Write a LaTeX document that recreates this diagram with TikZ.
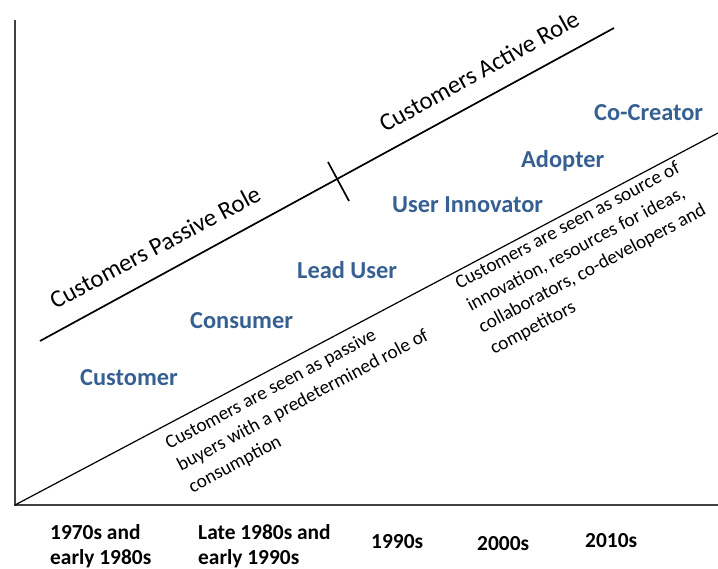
\documentclass[tikz,border=0pt]{standalone}
\usepackage{fontspec}
\setmainfont{Carlito}
\definecolor{roleblue}{HTML}{376092}
\definecolor{axisgray}{HTML}{404040}
\begin{document}
\begin{tikzpicture}[x=1pt,y=-1pt,
  axisline/.style={draw=axisgray,line width=1.8pt},
  divider/.style={draw=black,line width=1.2pt},
  roleline/.style={draw=black,line width=1.7pt},
  stage/.style={anchor=base west,inner sep=0pt,text=roleblue,font=\fontsize{24.4}{29}\selectfont\bfseries},
  era/.style={inner sep=0pt,font=\fontsize{21.4}{25}\selectfont\bfseries,align=left},
  rolelabel/.style={inner sep=0pt,font=\fontsize{24.8}{29}\selectfont},
  note/.style={inner sep=0pt,anchor=north west,align=left,rotate=28,font=\fontsize{19.2}{24.6}\selectfont}]
\useasboundingbox (0,0) rectangle (718,569);

% axes
\coordinate (origin) at (15,505);
\coordinate (ytop) at (15,20);
\coordinate (xend) at (718,505);
\draw[axisline] (ytop) -- (origin) -- (xend);

% diagonal separating the two descriptions
\coordinate (divend) at (718,133);
\draw[divider] (origin) -- (divend);

% passive / active role line with its split mark
\coordinate (rolestart) at (40,341);
\coordinate (roleend) at (614,28);
\draw[roleline] (rolestart) -- (roleend);
\coordinate (tickA) at (328,162);
\coordinate (tickB) at (349,201);
\draw[roleline] (tickA) -- (tickB);

\node[rolelabel,rotate=28] (passive) at (155,247) {Customers Passive Role};
\node[rolelabel,rotate=29] (active) at (479,71) {Customers Active Role};

% stages of the customer
\node[stage] (customer) at (80,386) {Customer};
\node[stage] (consumer) at (190,329) {Consumer};
\node[stage] (leaduser) at (297,279) {Lead User};
\node[stage] (innovator) at (392,213) {User Innovator};
\node[stage] (adopter) at (521,168) {Adopter};
\node[stage] (cocreator) at (594,121) {Co-Creator};

% descriptions
\node[note] (passivenote) at (163,438) {Customers are seen as passive\\buyers with a predetermined role of\\consumption};
\node[note] (activenote) at (453,278) {Customers are seen as source of\\innovation, resources for ideas,\\collaborators, co-developers and\\competitors};

% time periods
\node[era,anchor=north west] (e70) at (50,524) {1970s and\\early 1980s};
\node[era,anchor=north west] (e80) at (198,524) {Late 1980s and\\early 1990s};
\node[era,anchor=base west] (e90) at (371,548) {1990s};
\node[era,anchor=base west] (e00) at (477,550) {2000s};
\node[era,anchor=base west] (e10) at (585,547) {2010s};
\end{tikzpicture}
\end{document}
